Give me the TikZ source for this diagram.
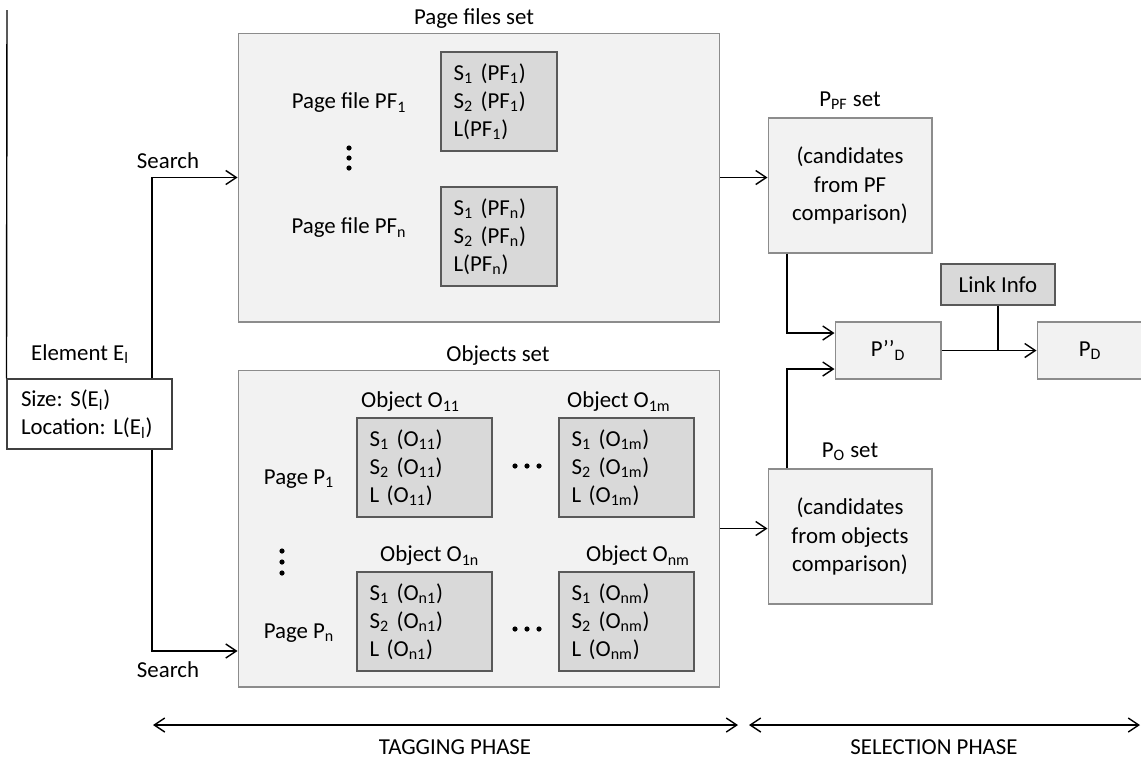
\documentclass[tikz,border=0pt]{standalone}
\usepackage{fontspec}
\setmainfont{Carlito}
\usetikzlibrary{arrows.meta}
\definecolor{setfill}{HTML}{F2F2F2}
\definecolor{attrfill}{HTML}{D9D9D9}
\definecolor{setline}{HTML}{8C8C8C}
\definecolor{attrline}{HTML}{595959}
\begin{document}
\begin{tikzpicture}[x=0.02cm, y=-0.02cm, >={Straight Barb[length=6pt,width=8pt]},
  font=\fontsize{13}{16}\selectfont\frenchspacing,
  setbox/.style={draw=setline, fill=setfill, semithick, inner sep=0pt},
  attrbox/.style={draw=attrline, fill=attrfill, thick, align=left, inner xsep=0.25cm, text width=#1, minimum height=1.98cm},
  conn/.style={->, thick}]
\useasboundingbox (0,0) rectangle (1141,758);

\node (elem) at (89.5,414)[draw=black!75, fill=white, semithick, align=left, text width=2.74cm, inner xsep=0.28cm, minimum height=1.4cm]{Size: S(E\textsubscript{l})\\Location: L(E\textsubscript{l})};
\node (elemt) at (80,354){Element E\textsubscript{l}};
\coordinate (top) at (7,10);
\draw[thick](top)--(elem.north west);

\node (pf) at (479,177.5)[setbox, minimum width=9.64cm, minimum height=5.78cm]{};
\node (pft) at (474,19){Page files set};
\node (pf1) at (499,101.5)[attrbox=1.82cm]{S\textsubscript{1} (PF\textsubscript{1})\\S\textsubscript{2} (PF\textsubscript{1})\\L(PF\textsubscript{1})};
\node (pfn) at (499,236.5)[attrbox=1.82cm]{S\textsubscript{1} (PF\textsubscript{n})\\S\textsubscript{2} (PF\textsubscript{n})\\L(PF\textsubscript{n})};
\node (pf1t) at (349,103){Page file PF\textsubscript{1}};
\node (pfnt) at (349,228){Page file PF\textsubscript{n}};

\node (obj) at (479,528.5)[setbox, minimum width=9.64cm, minimum height=6.34cm]{};
\node (objt) at (498,356){Objects set};
\node (o11) at (424.5,467.5)[attrbox=2.2cm]{S\textsubscript{1} (O\textsubscript{11})\\S\textsubscript{2} (O\textsubscript{11})\\L (O\textsubscript{11})};
\node (o1m) at (626.5,467.5)[attrbox=2.2cm]{S\textsubscript{1} (O\textsubscript{1m})\\S\textsubscript{2} (O\textsubscript{1m})\\L (O\textsubscript{1m})};
\node (on1) at (424.5,621.5)[attrbox=2.2cm]{S\textsubscript{1} (O\textsubscript{n1})\\S\textsubscript{2} (O\textsubscript{n1})\\L (O\textsubscript{n1})};
\node (onm) at (626.5,621.5)[attrbox=2.2cm]{S\textsubscript{1} (O\textsubscript{nm})\\S\textsubscript{2} (O\textsubscript{nm})\\L (O\textsubscript{nm})};
\node (o11t) at (355,402)[right]{Object O\textsubscript{11}};
\node (o1mt) at (561,402)[right]{Object O\textsubscript{1m}};
\node (on1t) at (374,556)[right]{Object O\textsubscript{1n}};
\node (onmt) at (580,556)[right]{Object O\textsubscript{nm}};
\node (p1t) at (299,479){Page P\textsubscript{1}};
\node (pnt) at (299,633){Page P\textsubscript{n}};

\foreach \c in {(349,148),(349,158),(349,168),(282,551),(282,562),(282,573),(515,466),(527,466),(539,466),(515,629),(527,629),(539,629)}
  \fill \c circle (0.052cm);

\node (ppft) at (850,101){P\textsubscript{PF} set};
\node (ppf) at (850,185.5)[setbox, minimum width=3.28cm, minimum height=2.7cm, align=center]{(candidates\\from PF\\comparison)};
\node (pot) at (850,452){P\textsubscript{O} set};
\node (po) at (850,536.5)[setbox, minimum width=3.28cm, minimum height=2.7cm, align=center]{(candidates\\from objects\\comparison)};

\node (pdd) at (888,350.5)[setbox, minimum width=2.12cm, minimum height=1.14cm]{P’’\textsubscript{D}};
\node (li) at (998,284.5)[draw=attrline, fill=attrfill, thick, inner sep=0pt, minimum width=2.28cm, minimum height=0.82cm]{Link Info};
\node (pd) at (1090,350.5)[setbox, minimum width=2.12cm, minimum height=1.14cm]{P\textsubscript{D}};

% search
\coordinate (sx) at (152,0);
\coordinate (sb) at (152,651);
\draw[conn](elem.north -| sx) |- (pf.west);
\draw[conn](elem.south -| sb)--(sb)--(sb -| obj.west);
\node (s1t) at (168,161){Search};
\node (s2t) at (168,670){Search};

\draw[conn](pf.east)--(pf.east -| ppf.west);
\draw[conn](obj.east)--(obj.east -| po.west);

\coordinate (ja) at (787,333);
\coordinate (jb) at (787,369);
\draw[conn](ja |- ppf.south)--(ja)--(ja -| pdd.west);
\draw[conn](jb |- po.north)--(jb)--(jb -| pdd.west);
\draw[conn](pdd)--(pd);
\draw[thick](li)--(li |- pdd);

% phases
\coordinate (ta) at (153,725);
\coordinate (tb) at (738,725);
\coordinate (sa) at (749,725);
\coordinate (se) at (1140,725);
\draw[<->, thick](ta)--(tb);
\draw[<->, thick](sa)--(se);
\node (tagt) at (455,754)[anchor=base, inner sep=0pt]{TAGGING PHASE};
\node (selt) at (934,754)[anchor=base, inner sep=0pt]{SELECTION PHASE};

\end{tikzpicture}
\end{document}
